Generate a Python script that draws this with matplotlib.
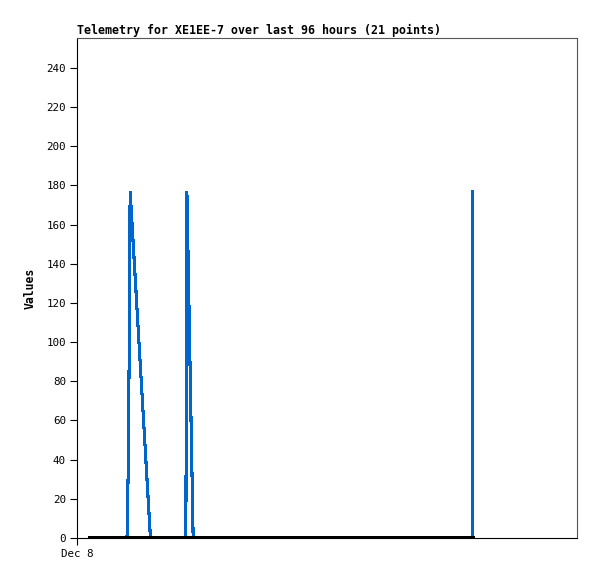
import matplotlib
matplotlib.use("Agg")
import matplotlib.pyplot as plt

# hours since Dec 8 00:00
times = [2.5, 9.6, 9.8, 10.0, 10.2, 14.1, 20.9, 21.1, 22.3, 76.0, 76.0]
values = [0, 0, 30, 88, 177, 0, 0, 177, 0, 0, 177]
base_times = [2.5, 76.0]
base_values = [0, 0]

title = "Telemetry for XE1EE-7 over last 96 hours (21 points)"
xtick_pos = [0]
xtick_labels = ["Dec 8"]
yticks = list(range(0, 241, 20))

W, H = 597, 579
fig = plt.figure(figsize=(W / 100, H / 100), dpi=100)
ax = fig.add_axes([77 / W, (H - 538) / H, 500 / W, 500 / H])

ax.plot(times, values, color="#0066cc", lw=1.5, antialiased=False,
        solid_joinstyle="miter", zorder=3)
ax.plot(base_times, base_values, color="black", lw=1.6, antialiased=False, zorder=4)

ax.set_xlim(0, 96)
ax.set_ylim(0, 255.3)
ax.set_yticks(yticks)
ax.set_xticks(xtick_pos)
ax.set_xticklabels(xtick_labels)

mono = "DejaVu Sans Mono"
for lab in ax.get_yticklabels() + ax.get_xticklabels():
    lab.set_fontfamily(mono)
    lab.set_fontsize(7.8)
ax.tick_params(axis="both", direction="out", length=5, width=0.8, color="black", pad=3)
ax.tick_params(axis="x", pad=3)

for s in ("top", "right"):
    ax.spines[s].set_color("#555555")
    ax.spines[s].set_linewidth(0.8)
for s in ("left", "bottom"):
    ax.spines[s].set_color("black")
    ax.spines[s].set_linewidth(0.8)

ax.set_ylabel("Values", fontfamily=mono, fontweight="bold", fontsize=8.3, labelpad=7)
ax.set_title(title, loc="left", fontfamily=mono, fontweight="bold", fontsize=8.4, pad=3)

fig.savefig("out.png", dpi=100)
